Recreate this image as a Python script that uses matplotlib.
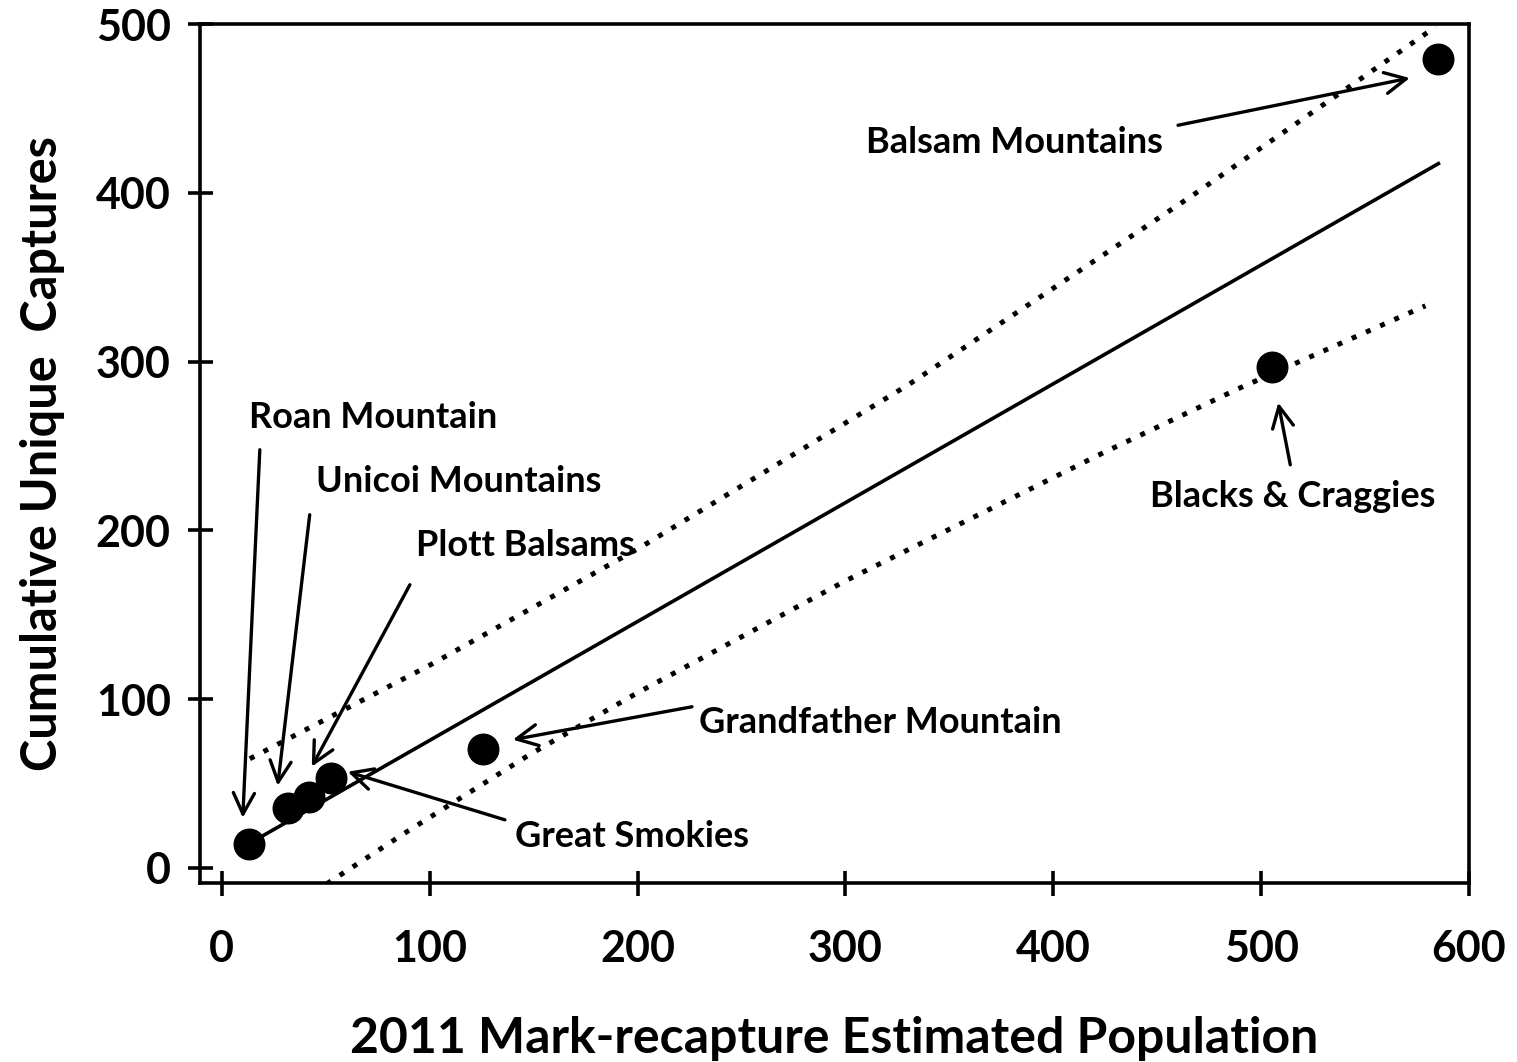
import matplotlib
matplotlib.use("Agg")
import matplotlib.pyplot as plt

plt.rcParams['font.family'] = ['Lato', 'DejaVu Sans']
plt.rcParams['font.weight'] = 'bold'

# population estimates vs cumulative unique captures per mountain range
sites = ['Roan Mountain', 'Unicoi Mountains', 'Plott Balsams', 'Great Smokies',
         'Grandfather Mountain', 'Blacks & Craggies', 'Balsam Mountains']
est_pop = [13, 32, 42, 52.5, 125.5, 505, 585]
captures = [14, 35.5, 42, 53, 70.5, 297, 479.5]

# regression line and its upper / lower bounds
fit_x = [13, 586]
fit_y = [14.2, 417.8]
upper_x = [13.5, 100, 201, 330, 466, 584]
upper_y = [64.6, 120, 189.6, 286, 397.6, 498.4]
lower_x = [50.5, 89, 148, 200, 300, 424, 489, 579]
lower_y = [-9.5, 21.3, 67, 103.7, 170, 245.9, 283.9, 333]

x_ticks = [0, 100, 200, 300, 400, 500, 600]
y_ticks = [0, 100, 200, 300, 400, 500]

fig = plt.figure(figsize=(15.17, 10.62), dpi=100)
ax = fig.add_axes([0.1318, 0.1686, 0.8366, 0.8088])

ax.plot(fit_x, fit_y, color='black', lw=2.6, solid_capstyle='butt')
ax.plot(upper_x, upper_y, color='black', lw=3.6, linestyle=(0, (1, 2.1)),
        dash_capstyle='butt')
ax.plot(lower_x, lower_y, color='black', lw=3.6, linestyle=(0, (1, 2.1)),
        dash_capstyle='butt')
ax.plot(est_pop, captures, 'o', color='black', markersize=22, zorder=5)

ax.set_xlim(-10.5, 600)
ax.set_ylim(-9, 500)
ax.set_xticks(x_ticks)
ax.set_yticks(y_ticks)

for s in ax.spines.values():
    s.set_linewidth(2.6)
ax.tick_params(direction='inout', length=18, width=2.6, labelsize=31)
ax.tick_params(axis='x', pad=24)
ax.tick_params(axis='y', pad=12)

ax.set_xlabel('2011 Mark-recapture Estimated Population', fontsize=36,
              fontweight='bold', labelpad=34)
ax.set_ylabel('Cumulative Unique  Captures', fontsize=35, fontweight='bold',
              labelpad=22)

# site labels with arrows pointing at each point
arrow = dict(arrowstyle='->', color='black', lw=2.4, mutation_scale=38,
             shrinkA=0, shrinkB=0)
labels = [
    ('Balsam Mountains', (310, 430), (460, 440), (571.5, 468)),
    ('Roan Mountain', (13, 267), (18.3, 247.7), (10.1, 29.6)),
    ('Unicoi Mountains', (45.2, 228.7), (42.3, 209.2), (26.9, 48.6)),
    ('Plott Balsams', (93.4, 190.8), (90.5, 167.7), (43.3, 59.9)),
    ('Great Smokies', (141, 18.4), (136.2, 28.4), (60.6, 56.9)),
    ('Grandfather Mountain', (229.5, 85.9), (226.2, 95.4), (140, 75.9)),
    ('Blacks & Craggies', (446.6, 219.9), (514, 238.8), (508.2, 275.6)),
]
for name, txt_pos, tail, head in labels:
    ax.text(txt_pos[0], txt_pos[1], name, fontsize=26, fontweight='bold',
            ha='left', va='center')
    ax.annotate('', xy=head, xytext=tail, arrowprops=arrow)

fig.savefig('out.png', dpi=100)
